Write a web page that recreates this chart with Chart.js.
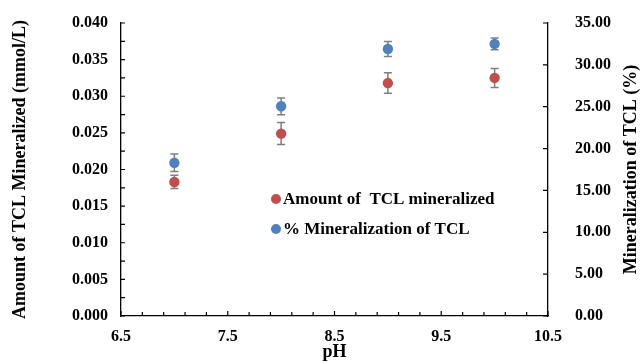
<!DOCTYPE html>
<html>
<head>
<meta charset="utf-8">
<script src="https://cdn.jsdelivr.net/npm/chart.js@4.4.1/dist/chart.umd.min.js"></script>
<style>
  html, body { margin: 0; padding: 0; background: #fff; }
  #wrap { width: 642px; height: 362px; }
</style>
</head>
<body>
<div id="wrap"><canvas id="chart-ph" width="642" height="362"></canvas></div>
<script>
// pH series
var phValues = [7, 8, 9, 10];

// TCL mineralized, mmol/L (left axis)
var amountLabel = 'Amount of  TCL mineralized';
var amountValues = [0.0183, 0.0249, 0.0318, 0.0325];
var amountErrors = [0.0009, 0.0015, 0.0014, 0.0013];

// mineralization, % (right axis)
var percentLabel = '% Mineralization of TCL';
var percentValues = [18.3, 25.05, 31.9, 32.5];
var percentErrors = [1.05, 1.0, 0.9, 0.7];

// axis tick labels
var xTicks = [6.5, 7.5, 8.5, 9.5, 10.5];
var leftTicks = [0, 0.005, 0.01, 0.015, 0.02, 0.025, 0.03, 0.035, 0.04];
var rightTicks = [0, 5, 10, 15, 20, 25, 30, 35];

var rightTitle = 'Mineralization of TCL (%)';

var SERIF = '"Liberation Serif", "Times New Roman", serif';
var RED = '#C0504D';
var BLUE = '#4F81BD';

function points(xs, ys) {
    return xs.map(function(x, i) { return { x: x, y: ys[i] }; });
}

function fixTicks(values) {
    return function(scale) {
        scale.ticks = values.map(function(v) { return { value: v }; });
    };
}

// fixed width for a side axis, without the extra label padding above/below
function sideWidth(w) {
    return function(scale) {
        scale.width = w;
        scale.paddingTop = 0;
        scale.paddingBottom = 0;
    };
}

// error bars, drawn under the markers
var errorBars = {
    id: 'errorBars',
    beforeDatasetsDraw: function(chart) {
        var ctx = chart.ctx;
        var xs = chart.scales.x;
        ctx.save();
        ctx.strokeStyle = '#7f7f7f';
        ctx.lineWidth = 1.5;
        chart.data.datasets.forEach(function(ds) {
            var ys = chart.scales[ds.yAxisID];
            ds.data.forEach(function(p, i) {
                var e = ds.errors[i];
                var px = xs.getPixelForValue(p.x);
                var top = ys.getPixelForValue(p.y + e);
                var bot = ys.getPixelForValue(p.y - e);
                ctx.beginPath();
                ctx.moveTo(px, top); ctx.lineTo(px, bot);
                ctx.moveTo(px - 4, top); ctx.lineTo(px + 4, top);
                ctx.moveTo(px - 4, bot); ctx.lineTo(px + 4, bot);
                ctx.stroke();
            });
        });
        ctx.restore();
    }
};

// small tick marks pointing into the plot, plus the right axis title
var innerTicks = {
    id: 'innerTicks',
    afterDraw: function(chart) {
        var ctx = chart.ctx;
        var a = chart.chartArea;
        var s = chart.scales;
        var v, p;
        ctx.save();
        ctx.strokeStyle = '#000';
        ctx.lineWidth = 1.2;
        ctx.beginPath();
        for (v = 0; v <= 20; v++) {
            p = s.x.getPixelForValue(6.5 + v * 0.2);
            ctx.moveTo(p, a.bottom);
            ctx.lineTo(p, a.bottom - (v % 5 === 0 ? 5 : 4));
        }
        for (v = 0; v <= 16; v++) {
            p = s.y.getPixelForValue(v * 0.0025);
            ctx.moveTo(a.left, p);
            ctx.lineTo(a.left + 4, p);
        }
        rightTicks.forEach(function(t) {
            p = s.y1.getPixelForValue(t);
            ctx.moveTo(a.right, p);
            ctx.lineTo(a.right - 5, p);
        });
        ctx.stroke();

        // right title reads bottom to top, like the left one
        ctx.translate(631, (a.top + a.bottom) / 2);
        ctx.rotate(-Math.PI / 2);
        ctx.font = 'bold 18px ' + SERIF;
        ctx.fillStyle = '#000';
        ctx.textAlign = 'center';
        ctx.textBaseline = 'middle';
        ctx.fillText(rightTitle, 0, 0);
        ctx.restore();
    }
};

// legend inside the plot
var innerLegend = {
    id: 'innerLegend',
    afterDraw: function(chart) {
        var ctx = chart.ctx;
        ctx.save();
        ctx.font = 'bold 17px ' + SERIF;
        ctx.textBaseline = 'middle';
        chart.data.datasets.forEach(function(ds, i) {
            var y = 199 + i * 30;
            ctx.beginPath();
            ctx.fillStyle = ds.backgroundColor;
            ctx.arc(276, y, 5, 0, Math.PI * 2);
            ctx.fill();
            ctx.fillStyle = '#000';
            ctx.fillText(ds.label, 283, y + 1);
        });
        ctx.restore();
    }
};

var tickFont = { family: SERIF, size: 16, weight: 'bold' };
var titleFont = { family: SERIF, size: 18, weight: 'bold' };
var axisBorder = { display: true, color: '#000', width: 1.3 };

var ctx = document.getElementById('chart-ph').getContext('2d');
var chart = new Chart(ctx, {
    type: 'scatter',
    data: {
        datasets: [{
            label: amountLabel,
            data: points(phValues, amountValues),
            errors: amountErrors,
            yAxisID: 'y',
            backgroundColor: RED,
            borderColor: RED,
            pointRadius: 5.2,
            pointBorderWidth: 0
        }, {
            label: percentLabel,
            data: points(phValues, percentValues),
            errors: percentErrors,
            yAxisID: 'y1',
            backgroundColor: BLUE,
            borderColor: BLUE,
            pointRadius: 5.2,
            pointBorderWidth: 0
        }]
    },
    options: {
        responsive: false,
        animation: false,
        layout: { padding: { top: 23 } },
        plugins: {
            legend: { display: false },
            tooltip: { enabled: false }
        },
        scales: {
            x: {
                type: 'linear',
                position: 'bottom',
                min: 6.5,
                max: 10.5,
                afterBuildTicks: fixTicks(xTicks),
                afterFit: function(scale) { scale.height = 46; },
                grid: { display: false, drawTicks: false },
                border: axisBorder,
                ticks: { font: tickFont, color: '#000', padding: 11, maxRotation: 0,
                    callback: function(v) { return v.toFixed(1); } },
                title: { display: true, text: 'pH', font: titleFont, color: '#000',
                    padding: { top: 0, bottom: -1 } }
            },
            y: {
                position: 'left',
                min: 0,
                max: 0.04,
                afterBuildTicks: fixTicks(leftTicks),
                afterFit: sideWidth(121),
                grid: { display: false, drawTicks: false },
                border: axisBorder,
                ticks: { font: tickFont, color: '#000', padding: 13,
                    callback: function(v) { return v.toFixed(3); } },
                title: { display: true, text: 'Amount of TCL Mineralized (mmol/L)', font: titleFont,
                    color: '#000', padding: { top: 10, bottom: 0 } }
            },
            y1: {
                position: 'right',
                min: 0,
                max: 35,
                afterBuildTicks: fixTicks(rightTicks),
                afterFit: sideWidth(94),
                grid: { display: false, drawTicks: false },
                border: axisBorder,
                ticks: { font: tickFont, color: '#000', padding: 27,
                    callback: function(v) { return v.toFixed(2); } },
                title: { display: false }
            }
        }
    },
    plugins: [errorBars, innerTicks, innerLegend]
});
</script>
</body>
</html>
